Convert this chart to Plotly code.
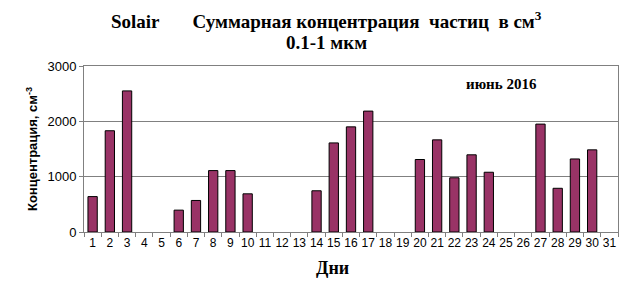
import plotly.graph_objects as go

days = [str(d) for d in range(1, 32)]
values = [640, 1830, 2550, None, None, 395, 570, 1110, 1110, 690,
          None, None, None, 745, 1610, 1900, 2185, None, None, 1310,
          1665, 980, 1395, 1080, None, None, 1950, 790, 1320, 1485, None]

title_line1 = "Solair       Суммарная концентрация  частиц  в см<sup>3</sup>"
title_line2 = "0.1-1 мкм"

fig = go.Figure()
fig.add_trace(go.Bar(
    x=days, y=values, width=0.54,
    marker=dict(color="#993366", line=dict(color="#000000", width=1)),
))

serif = "Liberation Serif"
fig.update_layout(
    width=640, height=293,
    margin=dict(l=84, r=22, t=66, b=61),
    paper_bgcolor="white", plot_bgcolor="white",
    showlegend=False,
    annotations=[
        dict(text="<b>" + title_line1 + "</b>", x=0.455, y=1.277, xref="paper", yref="paper",
             xanchor="center", yanchor="middle", showarrow=False,
             font=dict(family=serif, size=19, color="black")),
        dict(text="<b>" + title_line2 + "</b>", x=0.455, y=1.139, xref="paper", yref="paper",
             xanchor="center", yanchor="middle", showarrow=False,
             font=dict(family=serif, size=19, color="black")),
        dict(text="<b>июнь 2016</b>", x=0.781, y=0.89, xref="paper", yref="paper",
             xanchor="center", yanchor="middle", showarrow=False,
             font=dict(family=serif, size=15, color="black")),
        dict(text="<b>Дни</b>", x=0.465, y=-0.217, xref="paper", yref="paper",
             xanchor="center", yanchor="middle", showarrow=False,
             font=dict(family=serif, size=18, color="black")),
    ],
)

fig.update_xaxes(
    type="category", tickson="boundaries", ticks="outside", ticklen=4,
    tickcolor="#808080", showline=True, linecolor="#808080", mirror=True,
    showgrid=False, tickangle=0,
    tickfont=dict(family="Liberation Sans", size=12, color="black"),
)
fig.update_yaxes(
    range=[0, 3000], dtick=1000, ticks="outside", ticklen=4, tickcolor="#808080",
    showline=True, linecolor="#808080", mirror=True,
    showgrid=True, gridcolor="#808080", gridwidth=1, zeroline=False,
    tickfont=dict(family="Liberation Sans", size=13, color="black"),
    title=dict(text="<b>Концентрация, см<sup>-3</sup></b>",
               font=dict(family="Liberation Sans", size=13, color="black"), standoff=6),
)

fig.write_html("out.html")
